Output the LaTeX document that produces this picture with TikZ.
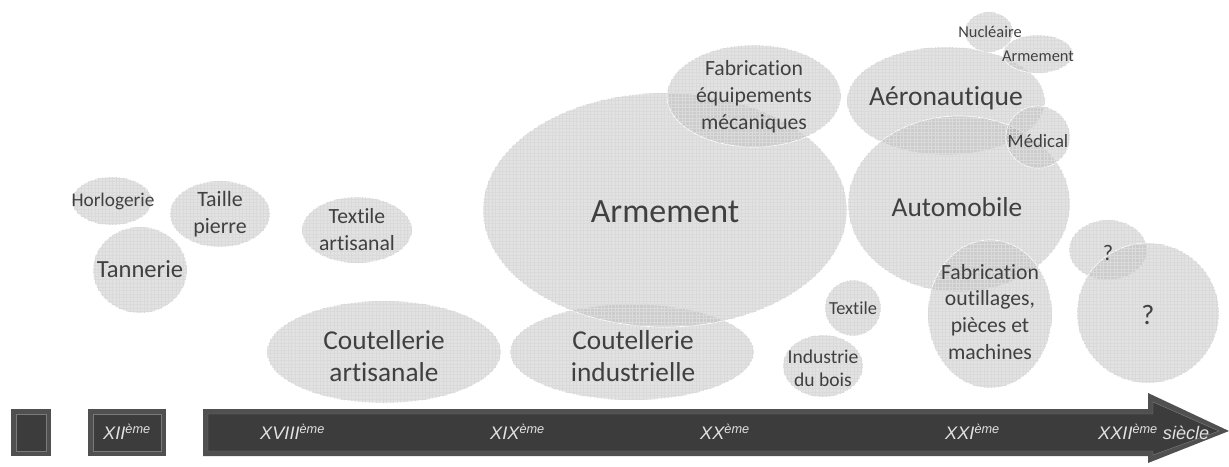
\documentclass[tikz,border=0pt]{standalone}
\usepackage{fontspec}
\setmainfont{Carlito}[Ligatures=NoCommon]
\newfontfamily\barfont{Liberation Sans}
\usetikzlibrary{patterns}
\definecolor{bubblegray}{HTML}{8A8A8A}
\definecolor{gridgray}{HTML}{DADADA}
\definecolor{labelgray}{HTML}{404040}
\definecolor{bardark}{HTML}{3C3C3C}
\definecolor{barframe}{HTML}{505050}
\definecolor{barrim}{HTML}{7A7A7A}
\definecolor{bartext}{HTML}{E2E2E2}
\tikzset{
	bubble/.style={fill=bubblegray, fill opacity=.25, draw=white, line width=.6pt,
		postaction={pattern=grid, pattern color=gridgray}},
	lbl/.style={text=labelgray, align=center, inner sep=0pt},
	era/.style={text=bartext, anchor=west, inner sep=0pt,
		font=\barfont\itshape\fontsize{15.5}{18}\selectfont},
}
\newcommand{\eme}{\textsuperscript{ème}}
\begin{document}
\begin{tikzpicture}[x=0.03cm, y=-0.03cm]
	\useasboundingbox (0,0) rectangle (1229,466);
	\foreach \cx/\cy/\rx/\ry in {112/201/40/24, 220/214/50/33, 140/270/47/43, 357/230/55/33,
		384/352/117/51, 632/352/122/48, 665/210/182/117, 754/96/87/51, 946/101/99/54,
		989/32/24/20, 1038/54/35/19, 959/204/111/88, 1038/137/32/31, 990/314/62/74,
		853/308/28/28, 823/366/40/31, 1108/250/39/30, 1148/313/71/70}
		\path[bubble] (\cx,\cy) ellipse [x radius=\rx, y radius=\ry];
	\node[lbl, font=\fontsize{16.5}{20}\selectfont] (horlo) at (113,201) {Horlogerie};
	\node[lbl, font=\fontsize{18.7}{23}\selectfont] (taille) at (220,214) {Taille\\pierre};
	\node[lbl, font=\fontsize{21}{25}\selectfont] (tann) at (140,269) {Tannerie};
	\node[lbl, font=\fontsize{18.5}{23}\selectfont] (textart) at (357,230) {Textile\\artisanal};
	\node[lbl, font=\fontsize{23.3}{27}\selectfont] (coutart) at (384,356) {Coutellerie\\artisanale};
	\node[lbl, font=\fontsize{23.3}{27}\selectfont] (coutind) at (633,356) {Coutellerie\\industrielle};
	\node[lbl, font=\fontsize{29}{34}\selectfont] (arm) at (665,212) {Armement};
	\node[lbl, font=\fontsize{18.5}{23}\selectfont] (fabeq) at (754,97) {Fabrication\\équipements\\mécaniques};
	\node[lbl, font=\fontsize{23.5}{28}\selectfont] (aero) at (946,98) {Aéronautique};
	\node[lbl, font=\fontsize{14}{17}\selectfont] (nucl) at (990,32) {Nucléaire};
	\node[lbl, font=\fontsize{14}{17}\selectfont] (armsm) at (1038,56) {Armement};
	\node[lbl, font=\fontsize{16}{19}\selectfont] (medic) at (1038,141) {Médical};
	\node[lbl, font=\fontsize{23.4}{28}\selectfont] (auto) at (957,207) {Automobile};
	\node[lbl, font=\fontsize{18.5}{23}\selectfont] (fabout) at (990,312) {Fabrication\\outillages,\\pièces et\\machines};
	\node[lbl, font=\fontsize{15.7}{19}\selectfont] (textile) at (853,308) {Textile};
	\node[lbl, font=\fontsize{16.7}{20}\selectfont] (bois) at (823,368) {Industrie\\du bois};
	\node[lbl, font=\fontsize{19}{23}\selectfont] (qsm) at (1108,253) {?};
	\node[lbl, font=\fontsize{24}{28}\selectfont] (qbig) at (1148,315) {?};
	\path[fill=barframe] (11,409) rectangle (51,456);
	\draw[barrim, fill=bardark] (16,414) rectangle (46,451);
	\path[fill=barframe] (88,409) rectangle (166,456);
	\draw[barrim, fill=bardark] (93,414) rectangle (161,451);
	\path[fill=barframe] (203,409) -- (1148,409) -- (1148,393) -- (1229,431)
		-- (1148,463) -- (1148,456) -- (203,456) -- cycle;
	\draw[barrim, fill=bardark] (208,414) -- (1153,414) -- (1153,402) -- (1219,431)
		-- (1153,455) -- (1153,451) -- (208,451) -- cycle;
	\node[era, anchor=center] (xii) at (127,432) {XII\eme};
	\node[era] (xviii) at (260,432) {XVIII\eme};
	\node[era] (xix) at (490,432) {XIX\eme};
	\node[era] (xx) at (700,432) {XX\eme};
	\node[era] (xxi) at (945,432) {XXI\eme};
	\node[era] (xxii) at (1098,432) {XXII\eme{} siècle};
\end{tikzpicture}
\end{document}
